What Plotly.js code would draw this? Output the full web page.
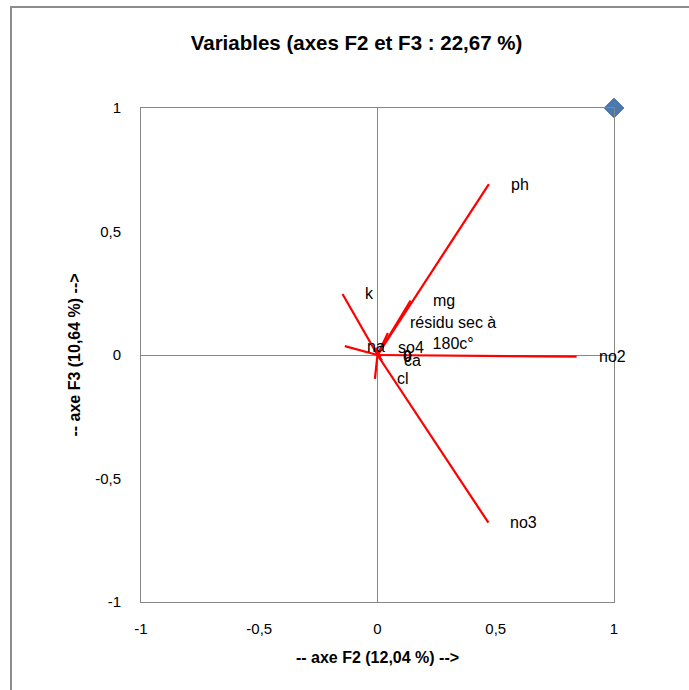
<!DOCTYPE html>
<html>
<head>
<meta charset="utf-8">
<script src="https://cdn.plot.ly/plotly-3.0.1.min.js"></script>
<style>html,body{margin:0;padding:0;background:#fff;}#chart{width:689px;height:690px;}</style>
</head>
<body>
<div id="chart"></div>
<script>
// Variable names (labels) and their coordinates on F2 / F3
const varNames = ["ph", "no3", "no2", "k", "na", "mg", "résidu sec à<br>180c°", "so4", "0", "ca", "cl"];
const f2Values = [0.471, 0.469, 0.842, -0.148, -0.138, 0.140, 0.044, -0.006, 0.015, 0.019, -0.011];
const f3Values = [0.692, -0.679, -0.007, 0.247, 0.036, 0.220, 0.089, 0.030, -0.006, -0.022, -0.097];
// Dummy point fixing the scale
const anchorX = [1];
const anchorY = [1];
// Axis ticks
const tickValues = [-1, -0.5, 0, 0.5, 1];
const tickLabels = ["-1", "-0,5", "0", "0,5", "1"];

const FONT = "Liberation Sans, Arial, sans-serif";
const GRAY = "#868686";

const traces = [];
for (let i = 0; i < varNames.length; i++) {
  traces.push({
    type: "scatter", mode: "lines",
    x: [0, f2Values[i]], y: [0, f3Values[i]],
    line: {color: "#ff0000", width: 2.25},
    hoverinfo: "skip", showlegend: false
  });
}
traces.push({
  type: "scatter", mode: "markers",
  x: anchorX, y: anchorY,
  marker: {symbol: "diamond", size: 15, color: "#4a78b0", line: {color: "#3b649a", width: 1}},
  cliponaxis: false, showlegend: false
});

const annotations = varNames.map((t, i) => ({
  x: f2Values[i], y: f3Values[i], xref: "x", yref: "y",
  text: t, showarrow: false, xanchor: "left", yanchor: "middle",
  xshift: 20, align: "center",
  font: {family: FONT, size: 16, color: "#000", weight: t === "0" ? "bold" : "normal"}
}));

const layout = {
  width: 689, height: 690,
  margin: {l: 141, r: 75, t: 108, b: 88, pad: 0},
  paper_bgcolor: "#fff", plot_bgcolor: "#fff",
  showlegend: false,
  title: {
    text: "Variables (axes F2 et F3 : 22,67 %)",
    font: {family: FONT, size: 20.5, color: "#000", weight: "bold"},
    x: 356.5 / 689, xref: "container", xanchor: "center",
    y: 1 - 43 / 690, yref: "container", yanchor: "middle"
  },
  xaxis: {
    range: [-1, 1], autorange: false, fixedrange: true,
    tickvals: tickValues, ticktext: tickLabels, ticks: "",
    ticklabelstandoff: 13,
    tickfont: {family: FONT, size: 15, color: "#000"},
    showgrid: false, zeroline: true, zerolinecolor: GRAY, zerolinewidth: 1,
    showline: true, mirror: true, linecolor: GRAY, linewidth: 1,
    title: {text: "-- axe F2 (12,04 %) -->", standoff: 15,
      font: {family: FONT, size: 16, color: "#000", weight: "bold"}}
  },
  yaxis: {
    range: [-1, 1], autorange: false, fixedrange: true,
    tickvals: tickValues, ticktext: tickLabels, ticks: "",
    ticklabelstandoff: 16,
    tickfont: {family: FONT, size: 15, color: "#000"},
    showgrid: false, zeroline: true, zerolinecolor: GRAY, zerolinewidth: 1,
    showline: true, mirror: true, linecolor: GRAY, linewidth: 1,
    title: {text: "-- axe F3 (10,64 %) -->", standoff: 10,
      font: {family: FONT, size: 16, color: "#000", weight: "bold"}}
  },
  xaxis2: {
    overlaying: "x", anchor: "free", position: 0.5, side: "bottom",
    range: [-1, 1], autorange: false, fixedrange: true,
    tickvals: tickValues, ticks: "outside", ticklen: 4, tickcolor: GRAY, tickwidth: 1,
    showticklabels: false, showgrid: false, zeroline: false, showline: false
  },
  yaxis2: {
    overlaying: "y", anchor: "free", position: 0.5, side: "left",
    range: [-1, 1], autorange: false, fixedrange: true,
    tickvals: tickValues, ticks: "outside", ticklen: 4, tickcolor: GRAY, tickwidth: 1,
    showticklabels: false, showgrid: false, zeroline: false, showline: false
  },
  shapes: [{
    type: "rect", xref: "paper", yref: "paper",
    x0: (11 - 141) / 473, x1: 1.6, y0: -0.6, y1: 1 + (108 - 7) / 494,
    line: {color: "#8c8c8c", width: 2}, fillcolor: "rgba(0,0,0,0)", layer: "below"
  }],
  annotations: annotations
};

Plotly.newPlot("chart", traces, layout, {staticPlot: true, displayModeBar: false});
</script>
</body>
</html>
